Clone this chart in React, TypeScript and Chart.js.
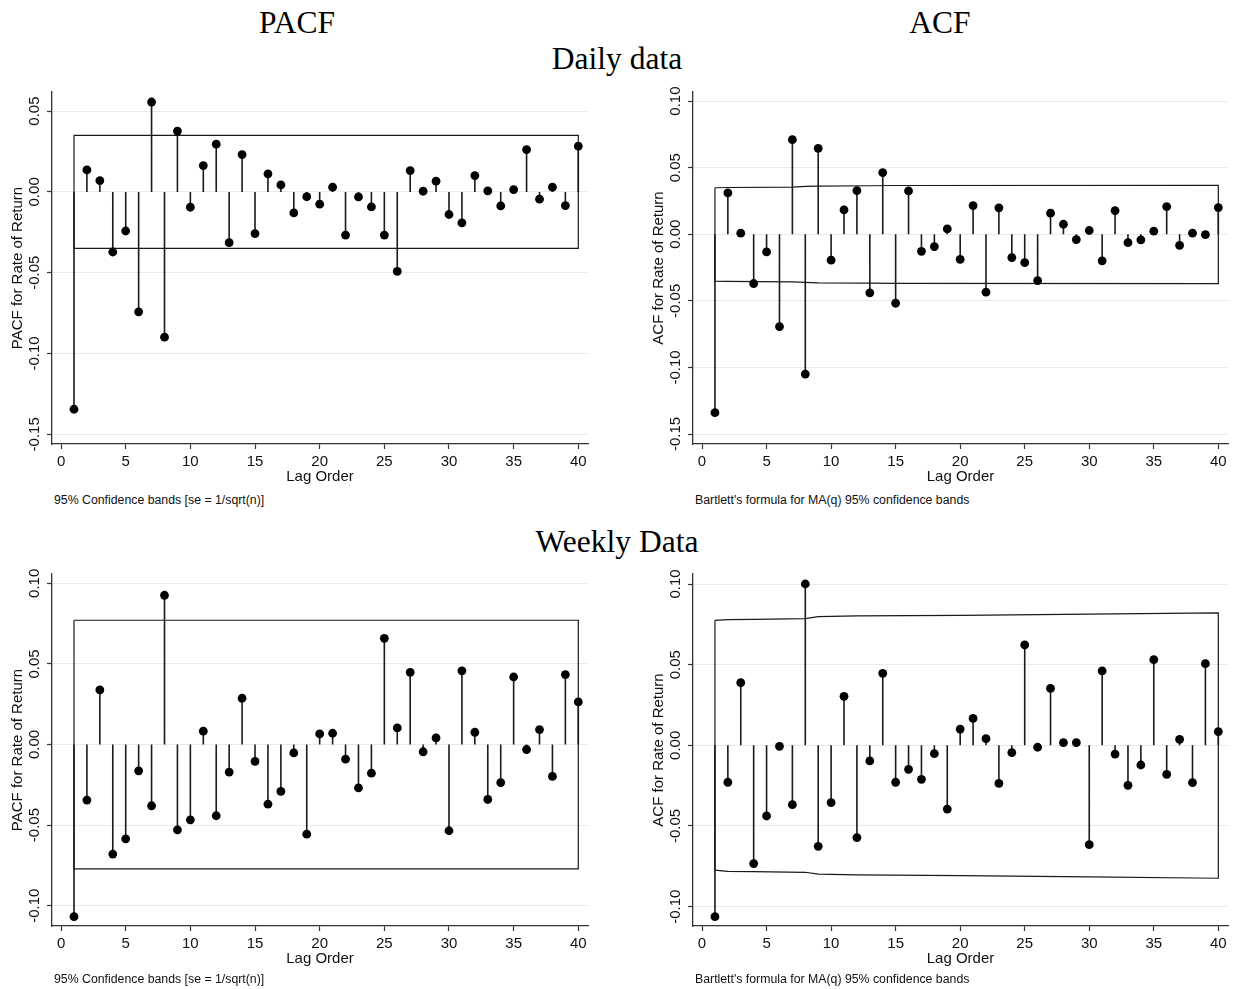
import React, { useEffect, useRef } from "react";
import { Chart, registerables } from "chart.js";

Chart.register(...registerables);

// ---- Data ----
const lags = [1, 2, 3, 4, 5, 6, 7, 8, 9, 10, 11, 12, 13, 14, 15, 16, 17, 18, 19, 20, 21, 22, 23, 24, 25, 26, 27, 28, 29, 30, 31, 32, 33, 34, 35, 36, 37, 38, 39, 40];
const xTicksStep = 5;
const yTicksStep = 0.05;

const dailyPacf = [
  -0.1345, 0.0136, 0.007, -0.0372, -0.0242, -0.0742, 0.0556, -0.0899, 0.0376, -0.0095,
  0.0163, 0.0295, -0.0314, 0.0231, -0.0258, 0.0112, 0.0043, -0.013, -0.003, -0.0076,
  0.0029, -0.0267, -0.0031, -0.0093, -0.0267, -0.0492, 0.0132, 0.0004, 0.0066, -0.014,
  -0.0192, 0.0101, 0.0006, -0.0087, 0.0014, 0.0262, -0.0045, 0.0029, -0.0085, 0.0283,
];
const dailyAcf = [
  -0.134, 0.031, 0.0008, -0.037, -0.0133, -0.0693, 0.071, -0.105, 0.0645, -0.0195,
  0.0183, 0.0328, -0.044, 0.0463, -0.0518, 0.0325, -0.0128, -0.0093, 0.004, -0.0188,
  0.0215, -0.0435, 0.0198, -0.0175, -0.0213, -0.0348, 0.0158, 0.0075, -0.004, 0.0028,
  -0.02, 0.0178, -0.0063, -0.0043, 0.0023, 0.0208, -0.0083, 0.0008, -0.0003, 0.02,
];
const weeklyPacf = [
  -0.1068, -0.0345, 0.0339, -0.068, -0.0585, -0.0163, -0.038, 0.0926, -0.0529, -0.0467,
  0.0083, -0.0442, -0.0171, 0.0287, -0.0105, -0.037, -0.0291, -0.0052, -0.0556, 0.0066,
  0.007, -0.0091, -0.0269, -0.0178, 0.0659, 0.0103, 0.0448, -0.0045, 0.0041, -0.0535,
  0.0457, 0.0076, -0.0341, -0.0236, 0.0419, -0.0031, 0.0093, -0.0198, 0.0434, 0.0264,
];
const weeklyAcf = [
  -0.1062, -0.0229, 0.0388, -0.0733, -0.0438, -0.0006, -0.0368, 0.1, -0.0626, -0.0355,
  0.0304, -0.0572, -0.0097, 0.0446, -0.0229, -0.0149, -0.0211, -0.0052, -0.0395, 0.0101,
  0.0167, 0.0041, -0.0236, -0.0045, 0.0622, -0.0012, 0.0353, 0.0017, 0.0017, -0.0616,
  0.0461, -0.0054, -0.0248, -0.0122, 0.0531, -0.018, 0.0037, -0.0231, 0.0506, 0.0085,
];

// Confidence bands
const dailyPacfBandLags = [1, 40];
const dailyPacfBandUpper = [0.035, 0.035];
const dailyPacfBandLower = [-0.035, -0.035];

const dailyAcfBandLags = [1, 2, 7, 8, 9, 13, 15, 40];
const dailyAcfBandUpper = [0.0349, 0.0351, 0.0354, 0.0359, 0.0362, 0.0364, 0.0366, 0.0368];
const dailyAcfBandLower = [-0.0352, -0.0354, -0.0357, -0.0362, -0.0365, -0.0367, -0.0369, -0.0371];

const weeklyPacfBandLags = [1, 40];
const weeklyPacfBandUpper = [0.0771, 0.0771];
const weeklyPacfBandLower = [-0.0771, -0.0771];

const weeklyAcfBandLags = [1, 2, 4, 8, 9, 12, 20, 30, 40];
const weeklyAcfBandUpper = [0.0774, 0.0779, 0.0781, 0.0785, 0.0798, 0.0802, 0.0806, 0.0813, 0.0821];
const weeklyAcfBandLower = [-0.0774, -0.0781, -0.0783, -0.0787, -0.0799, -0.0803, -0.0808, -0.0815, -0.0824];

const SANS = '"Liberation Sans", Arial, Helvetica, sans-serif';
const SERIF = '"Liberation Serif", "Times New Roman", serif';
const AXIS_W = 52;
const PAD_TOP = 12;
const XAXIS_H = 48;
const PAD_RIGHT = 6;

type PanelProps = {
  area: { left: number; top: number; right: number; bottom: number };
  values: number[];
  bandLags: number[];
  bandUpper: number[];
  bandLower: number[];
  yMin: number;
  yMax: number;
  yTitle: string;
};

function Panel(p: PanelProps) {
  const ref = useRef<HTMLCanvasElement>(null);
  const left = p.area.left - AXIS_W;
  const top = p.area.top - PAD_TOP;
  const width = p.area.right - left + PAD_RIGHT;
  const height = p.area.bottom - p.area.top + PAD_TOP + XAXIS_H;

  useEffect(() => {
    if (!ref.current) return;
    const stems: { x: number; y: number | null }[] = [];
    p.values.forEach((v, i) => {
      stems.push({ x: lags[i], y: 0 }, { x: lags[i], y: v }, { x: lags[i], y: null });
    });
    const points = p.values.map((v, i) => ({ x: lags[i], y: v }));
    const band = [
      ...p.bandLags.map((l, i) => ({ x: l, y: p.bandUpper[i] })),
      ...p.bandLags.map((l, i) => ({ x: l, y: p.bandLower[i] })).reverse(),
    ];
    band.push(band[0]);

    const tickFont = { family: SANS, size: 15 };
    const chart = new Chart(ref.current, {
      type: "scatter",
      data: {
        datasets: [
          {
            data: points,
            pointRadius: 4.4,
            pointBackgroundColor: "#000",
            pointBorderColor: "#000",
            pointBorderWidth: 0,
            showLine: false,
            clip: false,
          } as any,
          {
            data: stems,
            showLine: true,
            spanGaps: false,
            pointRadius: 0,
            borderColor: "#1a1a1a",
            borderWidth: 1.6,
            clip: false,
          } as any,
          {
            data: band,
            showLine: true,
            pointRadius: 0,
            borderColor: "#1a1a1a",
            borderWidth: 1.2,
            fill: false,
            tension: 0,
            clip: false,
          } as any,
        ],
      },
      options: {
        animation: false,
        responsive: false,
        devicePixelRatio: 1,
        events: [],
        layout: { padding: { top: PAD_TOP, right: PAD_RIGHT, left: 0, bottom: 0 } },
        plugins: { legend: { display: false }, tooltip: { enabled: false } },
        scales: {
          x: {
            type: "linear",
            min: -0.7,
            max: 40.75,
            ticks: {
              stepSize: xTicksStep,
              includeBounds: false,
              autoSkip: false,
              minRotation: 0,
              maxRotation: 0,
              padding: 4,
              color: "#111",
              font: tickFont,
              callback: (v: any) => String(v),
            },
            grid: {
              drawOnChartArea: false,
              drawTicks: true,
              tickLength: 5,
              tickColor: "#333",
              tickWidth: 1.2,
            },
            border: { display: true, color: "#333", width: 1.3 },
            title: {
              display: true,
              text: "Lag Order",
              color: "#111",
              font: tickFont,
              padding: { top: 0, bottom: 6 },
            },
            afterFit: (s: any) => {
              s.height = XAXIS_H;
            },
          },
          y: {
            type: "linear",
            min: p.yMin,
            max: p.yMax,
            ticks: {
              stepSize: yTicksStep,
              includeBounds: false,
              autoSkip: false,
              minRotation: 90,
              maxRotation: 90,
              crossAlign: "center",
              padding: -5,
              color: "#111",
              font: tickFont,
              callback: (v: any) => Number(v).toFixed(2),
            },
            grid: {
              color: "#e3ecef",
              lineWidth: 1,
              drawTicks: true,
              tickLength: 5,
              tickColor: "#333",
              tickWidth: 1.2,
            },
            border: { display: true, color: "#333", width: 1.3 },
            title: {
              display: true,
              text: p.yTitle,
              color: "#111",
              font: tickFont,
              padding: { top: 9, bottom: 0 },
            },
            afterFit: (s: any) => {
              s.width = AXIS_W;
            },
          },
        },
      } as any,
    });
    return () => chart.destroy();
  }, []);

  return (
    <canvas
      ref={ref}
      width={width}
      height={height}
      style={{ position: "absolute", left, top, width, height }}
    />
  );
}

const headingStyle: React.CSSProperties = {
  position: "absolute",
  fontFamily: SERIF,
  fontSize: 31.5,
  lineHeight: "31.5px",
  color: "#000",
  whiteSpace: "nowrap",
  transform: "translateX(-50%)",
};

const noteStyle: React.CSSProperties = {
  position: "absolute",
  fontFamily: SANS,
  fontSize: 12.3,
  lineHeight: "12.3px",
  color: "#111",
  whiteSpace: "nowrap",
};

export default function App() {
  return (
    <div
      style={{
        position: "fixed",
        left: 0,
        top: 0,
        width: 1235,
        height: 989,
        background: "#fff",
        overflow: "hidden",
      }}
    >
      <div style={{ ...headingStyle, left: 297, top: 6.6 }}>PACF</div>
      <div style={{ ...headingStyle, left: 940, top: 6.6 }}>ACF</div>
      <div style={{ ...headingStyle, left: 617, top: 42.6 }}>Daily data</div>
      <div style={{ ...headingStyle, left: 617, top: 525.6 }}>Weekly Data</div>

      <Panel
        area={{ left: 52, top: 92, right: 588, bottom: 444 }}
        values={dailyPacf}
        bandLags={dailyPacfBandLags}
        bandUpper={dailyPacfBandUpper}
        bandLower={dailyPacfBandLower}
        yMin={-0.156}
        yMax={0.0618}
        yTitle="PACF for Rate of Return"
      />
      <Panel
        area={{ left: 693, top: 92, right: 1228, bottom: 444 }}
        values={dailyAcf}
        bandLags={dailyAcfBandLags}
        bandUpper={dailyAcfBandUpper}
        bandLower={dailyAcfBandLower}
        yMin={-0.1575}
        yMax={0.1068}
        yTitle="ACF for Rate of Return"
      />
      <Panel
        area={{ left: 52, top: 574, right: 588, bottom: 926 }}
        values={weeklyPacf}
        bandLags={weeklyPacfBandLags}
        bandUpper={weeklyPacfBandUpper}
        bandLower={weeklyPacfBandLower}
        yMin={-0.1126}
        yMax={0.1058}
        yTitle="PACF for Rate of Return"
      />
      <Panel
        area={{ left: 693, top: 574, right: 1228, bottom: 926 }}
        values={weeklyAcf}
        bandLags={weeklyAcfBandLags}
        bandUpper={weeklyAcfBandUpper}
        bandLower={weeklyAcfBandLower}
        yMin={-0.112}
        yMax={0.1062}
        yTitle="ACF for Rate of Return"
      />

      <div style={{ ...noteStyle, left: 54, top: 494 }}>95% Confidence bands [se = 1/sqrt(n)]</div>
      <div style={{ ...noteStyle, left: 695, top: 494 }}>Bartlett's formula for MA(q) 95% confidence bands</div>
      <div style={{ ...noteStyle, left: 54, top: 972.7 }}>95% Confidence bands [se = 1/sqrt(n)]</div>
      <div style={{ ...noteStyle, left: 695, top: 972.7 }}>Bartlett's formula for MA(q) 95% confidence bands</div>
    </div>
  );
}
